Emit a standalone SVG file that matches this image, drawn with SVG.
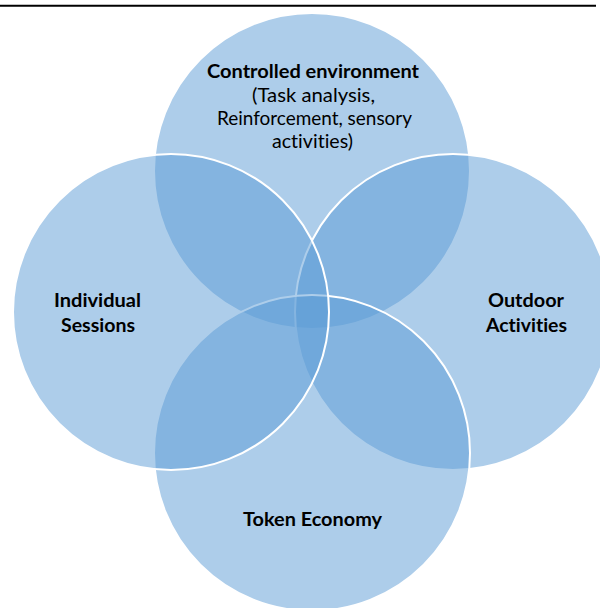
<svg xmlns="http://www.w3.org/2000/svg" width="600" height="608" viewBox="0 0 600 608">
  <style>
    .petal { fill: rgba(91,155,213,0.5); stroke: #ffffff; stroke-width: 2; }
    .lbl { font-family: "Lato", "Liberation Sans", sans-serif; font-size: 19px; fill: #000000; text-anchor: middle; font-variant-ligatures: none; font-feature-settings: "liga" 0, "dlig" 0; }
    .b { font-weight: bold; }
  </style>
  <rect width="600" height="608" fill="#ffffff"/>
  <g id="connectors">
    <line x1="0" y1="5.7" x2="596" y2="5.7" stroke="#000000" stroke-width="2"/>
  </g>
  <g id="controlled-environment">
    <circle class="petal" cx="312" cy="171" r="158"/>
  </g>
  <g id="outdoor-activities">
    <circle class="petal" cx="453" cy="312" r="158"/>
  </g>
  <g id="token-economy">
    <circle class="petal" cx="312" cy="453" r="158"/>
  </g>
  <g id="individual-sessions">
    <circle class="petal" cx="171" cy="312" r="158"/>
  </g>
  <g id="labels">
    <text class="lbl b" x="313" y="78" textLength="212" lengthAdjust="spacingAndGlyphs">Controlled environment</text>
    <text class="lbl" x="313.5" y="101.5" textLength="123" lengthAdjust="spacingAndGlyphs">(Task analysis,</text>
    <text class="lbl" x="314.5" y="125" textLength="195" lengthAdjust="spacingAndGlyphs">Reinforcement, sensory</text>
    <text class="lbl" x="312.5" y="148" textLength="81" lengthAdjust="spacingAndGlyphs">activities)</text>
    <text class="lbl b" x="97.5" y="307" textLength="87" lengthAdjust="spacingAndGlyphs">Individual</text>
    <text class="lbl b" x="98" y="331.5" textLength="74" lengthAdjust="spacingAndGlyphs">Sessions</text>
    <text class="lbl b" x="526" y="307" textLength="76" lengthAdjust="spacingAndGlyphs">Outdoor</text>
    <text class="lbl b" x="526.5" y="331.5" textLength="81" lengthAdjust="spacingAndGlyphs">Activities</text>
    <text class="lbl b" x="312.5" y="526" textLength="139" lengthAdjust="spacingAndGlyphs">Token Economy</text>
  </g>
</svg>
